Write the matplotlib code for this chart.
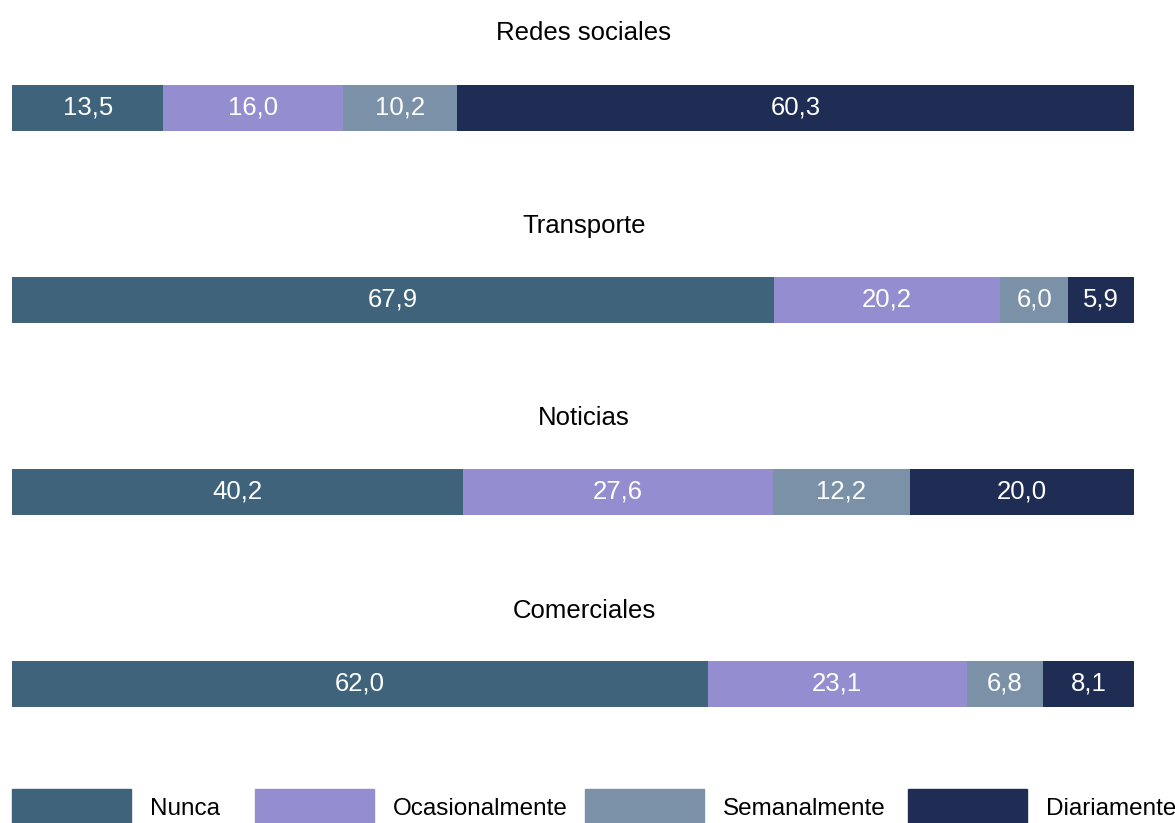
import matplotlib
matplotlib.use('Agg')
import matplotlib.pyplot as plt
from matplotlib.patches import Rectangle

plt.rcParams['font.family'] = ['Liberation Sans', 'DejaVu Sans']

CATEGORIES = ['Redes sociales', 'Transporte', 'Noticias', 'Comerciales']
FREQ = ['Nunca', 'Ocasionalmente', 'Semanalmente', 'Diariamente']
NUNCA = [13.5, 67.9, 40.2, 62.0]
OCASIONAL = [16.0, 20.2, 27.6, 23.1]
SEMANAL = [10.2, 6.0, 12.2, 6.8]
DIARIO = [60.3, 5.9, 20.0, 8.1]
COLORS = ['#3e637b', '#948ed0', '#7b91a7', '#1f2d55']

W, H = 1175, 823
fig = plt.figure(figsize=(W / 100, H / 100), dpi=100)

series = [NUNCA, OCASIONAL, SEMANAL, DIARIO]
bar_tops = [85, 277, 469, 661]
title_y = [33, 226, 418, 611]
x0, x1, bh = 12, 1134, 46

for i, cat in enumerate(CATEGORIES):
    ax = fig.add_axes([x0 / W, 1 - (bar_tops[i] + bh) / H, (x1 - x0) / W, bh / H])
    left = 0
    for s, col in zip(series, COLORS):
        v = s[i]
        ax.barh(0, v, left=left, height=1, color=col, edgecolor='none')
        ax.text(left + v / 2, 0, f'{v:.1f}'.replace('.', ','), color='white',
                ha='center', va='center', fontsize=18.5)
        left += v
    ax.set_xlim(0, 100)
    ax.set_ylim(-0.5, 0.5)
    ax.axis('off')
    fig.text(0.497, 1 - title_y[i] / H, cat, ha='center', va='center', fontsize=18.5)

# legend, drawn by hand to match the uneven spacing
patch_x = [12, 255, 585, 908]
for px, lab, col in zip(patch_x, FREQ, COLORS):
    fig.patches.append(Rectangle((px / W, -0.01), 119 / W, (34 / H) + 0.01,
                                 transform=fig.transFigure, color=col))
    fig.text((px + 138) / W, 1 - 809 / H, lab, ha='left', va='center', fontsize=17.5)

fig.savefig('out.png', dpi=100)
